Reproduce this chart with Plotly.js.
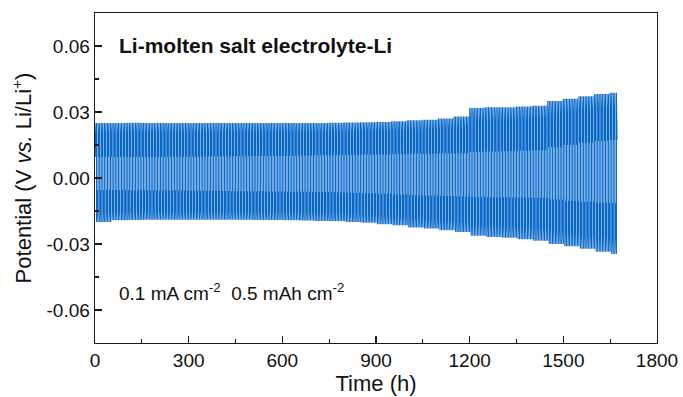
<!DOCTYPE html>
<html>
<head>
<meta charset="utf-8">
<script src="https://cdn.plot.ly/plotly-3.0.1.min.js"></script>
<style>
  html, body { margin: 0; padding: 0; background: #fff; }
  #chart { width: 683px; height: 397px; }
</style>
</head>
<body>
<div id="chart"></div>
<script>
// Galvanostatic cycling of a Li | molten salt electrolyte | Li symmetric cell.
// One cycle = 10 h (5 h plating + 5 h stripping). Envelope values read from the
// picture for each 50 h window (window k covers [50k, 50k+50) h).
const cycleHours = 10;
const endHours = 1672;
const windowHours = 50;

// Peak (edge-of-half-cycle) potential of the positive half-cycle (V)
const upperPeak = [
  0.0250, 0.0250, 0.0251, 0.0250, 0.0250, 0.0250, 0.0250, 0.0250, 0.0250, 0.0250,
  0.0250, 0.0250, 0.0250, 0.0250, 0.0250, 0.0251, 0.0252, 0.0253, 0.0255, 0.0258,
  0.0262, 0.0265, 0.0270, 0.0280, 0.0318, 0.0322, 0.0322, 0.0325, 0.0328, 0.0350,
  0.0360, 0.0372, 0.0382, 0.0388
];
// Mid-half-cycle (plateau) potential of the positive half (V)
const upperPlateau = [
  0.0095, 0.0095, 0.0095, 0.0096, 0.0096, 0.0097, 0.0097, 0.0098, 0.0098, 0.0099,
  0.0100, 0.0100, 0.0101, 0.0102, 0.0103, 0.0104, 0.0105, 0.0106, 0.0107, 0.0108,
  0.0110, 0.0110, 0.0112, 0.0113, 0.0118, 0.0120, 0.0122, 0.0124, 0.0126, 0.0140,
  0.0150, 0.0160, 0.0168, 0.0173
];
// Peak (edge-of-half-cycle) potential of the negative half-cycle (V)
const lowerPeak = [
  -0.0200, -0.0192, -0.0191, -0.0190, -0.0190, -0.0190, -0.0190, -0.0190, -0.0190, -0.0190,
  -0.0191, -0.0191, -0.0192, -0.0193, -0.0195, -0.0196, -0.0200, -0.0203, -0.0210, -0.0215,
  -0.0225, -0.0230, -0.0238, -0.0245, -0.0262, -0.0268, -0.0272, -0.0278, -0.0285, -0.0300,
  -0.0310, -0.0322, -0.0335, -0.0345
];
// Mid-half-cycle (plateau) potential of the negative half (V)
const lowerPlateau = [
  -0.0055, -0.0055, -0.0056, -0.0056, -0.0057, -0.0057, -0.0058, -0.0058, -0.0059, -0.0060,
  -0.0060, -0.0061, -0.0062, -0.0063, -0.0064, -0.0065, -0.0067, -0.0069, -0.0072, -0.0075,
  -0.0078, -0.0080, -0.0082, -0.0084, -0.0086, -0.0087, -0.0088, -0.0089, -0.0090, -0.0098,
  -0.0104, -0.0108, -0.0112, -0.0114
];

const xTickVals = [0, 300, 600, 900, 1200, 1500, 1800];
const yTickVals = [-0.06, -0.03, 0.00, 0.03, 0.06];

// Build the voltage trace: each half-cycle starts and ends at its peak value
// and passes through its plateau value in the middle.
const t = [], v = [];
const half = cycleHours / 2;
function addHalf(t0, peak, plateau) {
  const tMid = Math.min(t0 + half / 2, endHours);
  const tEnd = Math.min(t0 + half, endHours);
  t.push(t0);   v.push(peak);
  t.push(tMid); v.push(plateau);
  if (tEnd > tMid) { t.push(tEnd); v.push(peak); }
}
for (let c = 0; c * cycleHours < endHours; c++) {
  const t0 = c * cycleHours;
  const k = Math.min(Math.floor(t0 / windowHours), upperPeak.length - 1);
  addHalf(t0, upperPeak[k], upperPlateau[k]);
  if (t0 + half >= endHours) break;
  addHalf(t0 + half, lowerPeak[k], lowerPlateau[k]);
}

const FONT = 'Arial, "Liberation Sans", sans-serif';
const axisColor = '#1a1a1a';

const trace = {
  type: 'scatter',
  mode: 'lines',
  x: t,
  y: v,
  line: { color: '#0868C8', width: 1.1 },
  hoverinfo: 'skip',
  showlegend: false
};

const layout = {
  width: 683,
  height: 397,
  margin: { l: 95, r: 26, t: 13, b: 54, pad: 0 },
  paper_bgcolor: '#ffffff',
  plot_bgcolor: '#ffffff',
  font: { family: FONT, color: '#111', size: 19 },
  showlegend: false,
  xaxis: {
    range: [0, 1800],
    tickvals: xTickVals,
    ticktext: xTickVals.map(String),
    ticks: 'inside',
    ticklen: 7,
    tickwidth: 1.3,
    tickcolor: axisColor,
    minor: { dtick: 150, tick0: 0, ticks: 'inside', ticklen: 4, tickwidth: 1.1, tickcolor: axisColor },
    showline: true,
    linecolor: axisColor,
    linewidth: 1.4,
    mirror: true,
    showgrid: false,
    zeroline: false,
    tickfont: { size: 19, family: FONT, color: '#111' },
    title: { text: 'Time (h)', font: { size: 22, family: FONT, color: '#111' }, standoff: 4 }
  },
  yaxis: {
    range: [-0.075, 0.075],
    tickvals: yTickVals,
    ticktext: yTickVals.map(d => d.toFixed(2)),
    ticks: 'inside',
    ticklen: 7,
    tickwidth: 1.3,
    tickcolor: axisColor,
    minor: { dtick: 0.015, tick0: 0, ticks: 'inside', ticklen: 4, tickwidth: 1.1, tickcolor: axisColor },
    showline: true,
    linecolor: axisColor,
    linewidth: 1.4,
    mirror: true,
    showgrid: false,
    zeroline: false,
    tickfont: { size: 19, family: FONT, color: '#111' },
    title: { text: 'Potential (V <i>vs.</i> Li/Li<sup>+</sup>)', font: { size: 22, family: FONT, color: '#111' }, standoff: 8 }
  },
  annotations: [
    {
      xref: 'paper', yref: 'paper', x: 0.039, y: 0.90,
      xanchor: 'left', yanchor: 'middle', showarrow: false,
      text: '<b>Li-molten salt electrolyte-Li</b>',
      font: { size: 21, family: FONT, color: '#111' }
    },
    {
      xref: 'paper', yref: 'paper', x: 0.039, y: 0.155,
      xanchor: 'left', yanchor: 'middle', showarrow: false,
      text: '0.1 mA cm<sup>-2</sup>  0.5 mAh cm<sup>-2</sup>',
      font: { size: 19, family: FONT, color: '#111' }
    }
  ]
};

Plotly.newPlot('chart', [trace], layout, { staticPlot: true, displayModeBar: false });
</script>
</body>
</html>
